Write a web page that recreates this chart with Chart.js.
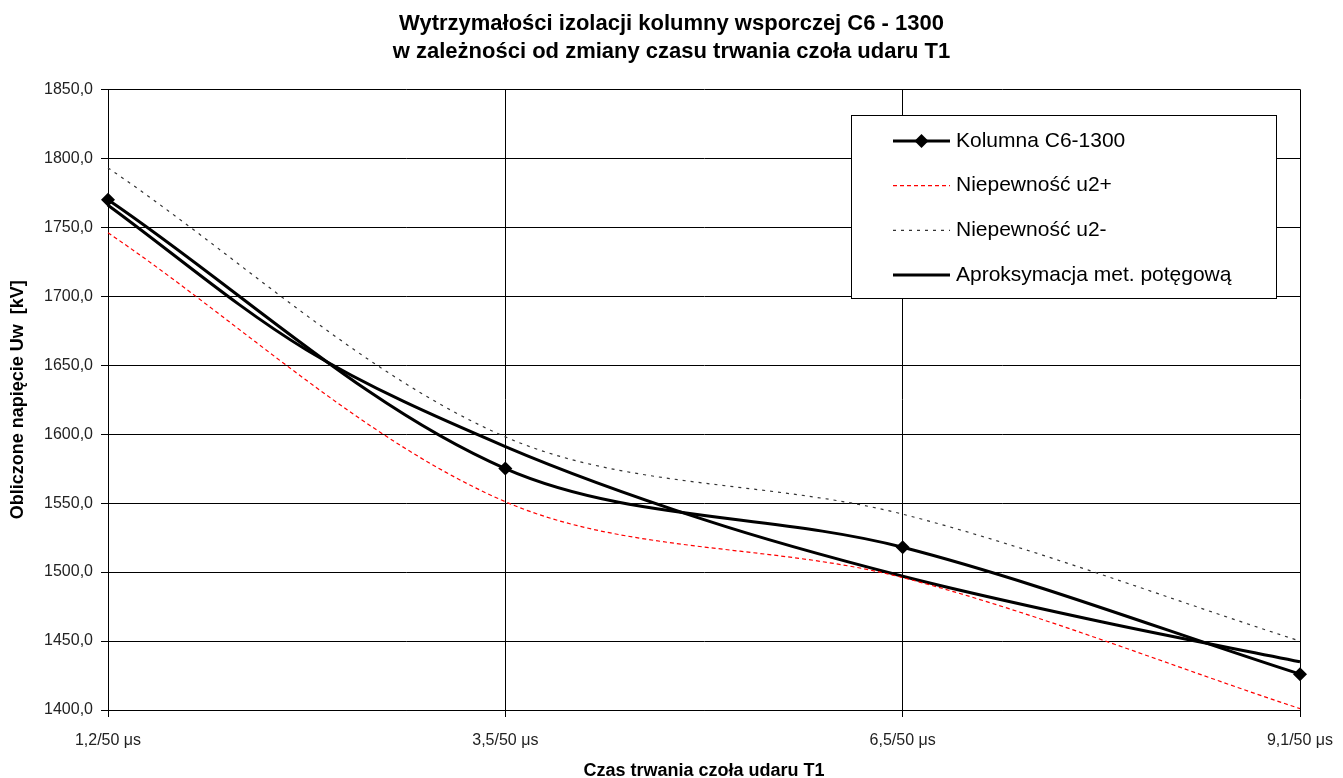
<!DOCTYPE html>
<html lang="pl">
<head>
<meta charset="UTF-8">
<title>Wytrzymałości izolacji kolumny wsporczej C6 - 1300</title>
<style>
  html, body { margin: 0; padding: 0; background: #fff; }
  #wrap { width: 1343px; height: 778px; }
</style>
</head>
<body>
<div id="wrap"><canvas id="chart" width="1343" height="778"></canvas></div>
<script src="https://cdn.jsdelivr.net/npm/chart.js@4.4.1/dist/chart.umd.min.js"></script>
<script>
// czas trwania czoła udaru (etykiety osi X, pozycje 0..3)
const czasy = ['1,2/50 μs', '3,5/50 μs', '6,5/50 μs', '9,1/50 μs'];
const pozycje = [0, 1, 2, 3];

// napięcie wytrzymywane Uw [kV] w punktach pomiarowych
const kolumna = [1770, 1575, 1518, 1426];
const niepewnoscPlus = [1746, 1551, 1496, 1401];
const niepewnoscMinus = [1793, 1598, 1542, 1450];

// krzywa aproksymacji (gęstsza siatka punktów)
const pozycjeAproks = [0, 0.5, 1, 1.5, 2, 2.5, 3];
const aproksymacja = [1766, 1661, 1591, 1538, 1497, 1464, 1435];

// zakres osi Y
const yMin = 1400;
const yMax = 1850;
const yKrok = 50;

const FONT = '"Liberation Sans", Arial, sans-serif';

const punkty = (xs, ys) => ys.map((y, i) => ({ x: xs[i], y: y }));

// legenda w ramce wewnątrz obszaru wykresu (jak w Excelu)
const legendaWRamce = {
  id: 'legendaWRamce',
  afterDraw(chart) {
    const ctx = chart.ctx;
    const bx = 851, by = 115, bw = 425, bh = 183;
    ctx.save();
    ctx.fillStyle = '#fff';
    ctx.fillRect(bx, by, bw, bh);
    ctx.strokeStyle = '#000';
    ctx.lineWidth = 1;
    ctx.strokeRect(bx + 0.5, by + 0.5, bw, bh);

    ctx.font = '21px ' + FONT;
    ctx.textBaseline = 'middle';
    ctx.textAlign = 'left';
    chart.data.datasets.forEach((ds, i) => {
      const y = by + 26 + i * 44.7;
      const x1 = bx + 42, x2 = bx + 99;
      ctx.strokeStyle = ds.borderColor;
      ctx.lineWidth = ds.borderWidth;
      ctx.setLineDash(ds.borderDash || []);
      ctx.beginPath();
      ctx.moveTo(x1, y);
      ctx.lineTo(x2, y);
      ctx.stroke();
      ctx.setLineDash([]);
      if (ds.pointRadius > 0) {
        const r = ds.pointRadius;
        const xm = (x1 + x2) / 2;
        ctx.fillStyle = ds.pointBackgroundColor;
        ctx.beginPath();
        ctx.moveTo(xm, y - r);
        ctx.lineTo(xm + r, y);
        ctx.lineTo(xm, y + r);
        ctx.lineTo(xm - r, y);
        ctx.closePath();
        ctx.fill();
      }
      ctx.fillStyle = '#000';
      ctx.fillText(ds.label, x2 + 6, y);
    });
    ctx.restore();
  }
};

const ctx = document.getElementById('chart').getContext('2d');
new Chart(ctx, {
  type: 'line',
  data: {
    datasets: [
      {
        label: 'Kolumna C6-1300',
        data: punkty(pozycje, kolumna),
        borderColor: '#000',
        borderWidth: 3,
        pointStyle: 'rectRot',
        pointRadius: 7,
        pointBackgroundColor: '#000',
        pointBorderColor: '#000',
        pointBorderWidth: 0,
        tension: 0.33,
        clip: false
      },
      {
        label: 'Niepewność u2+',
        data: punkty(pozycje, niepewnoscPlus),
        borderColor: '#ff0000',
        borderWidth: 1.2,
        borderDash: [4, 3],
        pointRadius: 0,
        tension: 0.33,
        clip: false
      },
      {
        label: 'Niepewność u2-',
        data: punkty(pozycje, niepewnoscMinus),
        borderColor: '#333',
        borderWidth: 1.2,
        borderDash: [3, 5],
        pointRadius: 0,
        tension: 0.33,
        clip: false
      },
      {
        label: 'Aproksymacja met. potęgową',
        data: punkty(pozycjeAproks, aproksymacja),
        borderColor: '#000',
        borderWidth: 3,
        pointRadius: 0,
        tension: 0.33,
        clip: false
      }
    ]
  },
  options: {
    responsive: false,
    animation: false,
    layout: { padding: 0 },
    plugins: {
      legend: { display: false },
      tooltip: { enabled: false },
      title: {
        display: true,
        text: ['Wytrzymałości izolacji kolumny wsporczej C6 - 1300',
               'w zależności od zmiany czasu trwania czoła udaru T1'],
        color: '#000',
        font: { family: FONT, size: 22, weight: 'bold', lineHeight: 1.28 },
        padding: { top: 10, bottom: 23 }
      }
    },
    scales: {
      x: {
        type: 'linear',
        min: 0,
        max: 3,
        grid: { color: '#000', lineWidth: 1, tickLength: 7 },
        border: { color: '#000', width: 1 },
        ticks: {
          stepSize: 1,
          color: '#222',
          font: { family: FONT, size: 16 },
          padding: 14,
          maxRotation: 0,
          callback: v => czasy[v]
        },
        title: {
          display: true,
          text: 'Czas trwania czoła udaru T1',
          color: '#000',
          font: { family: FONT, size: 18, weight: 'bold' },
          padding: { top: 4, bottom: -4 }
        },
        afterFit(scale) {
          scale.height = 68;
          scale.paddingLeft = 0;
          scale.paddingRight = 43;
        }
      },
      y: {
        min: yMin,
        max: yMax,
        grid: { color: '#000', lineWidth: 1, tickLength: 7 },
        border: { color: '#000', width: 1 },
        ticks: {
          stepSize: yKrok,
          color: '#222',
          font: { family: FONT, size: 16 },
          padding: 8,
          callback: v => v.toFixed(1).replace('.', ',')
        },
        title: {
          display: true,
          text: 'Obliczone napięcie Uw  [kV]',
          color: '#000',
          font: { family: FONT, size: 18, weight: 'bold' },
          padding: { top: 7, bottom: 4 }
        },
        afterFit(scale) { scale.width = 108; }
      }
    }
  },
  plugins: [legendaWRamce]
});
</script>
</body>
</html>
